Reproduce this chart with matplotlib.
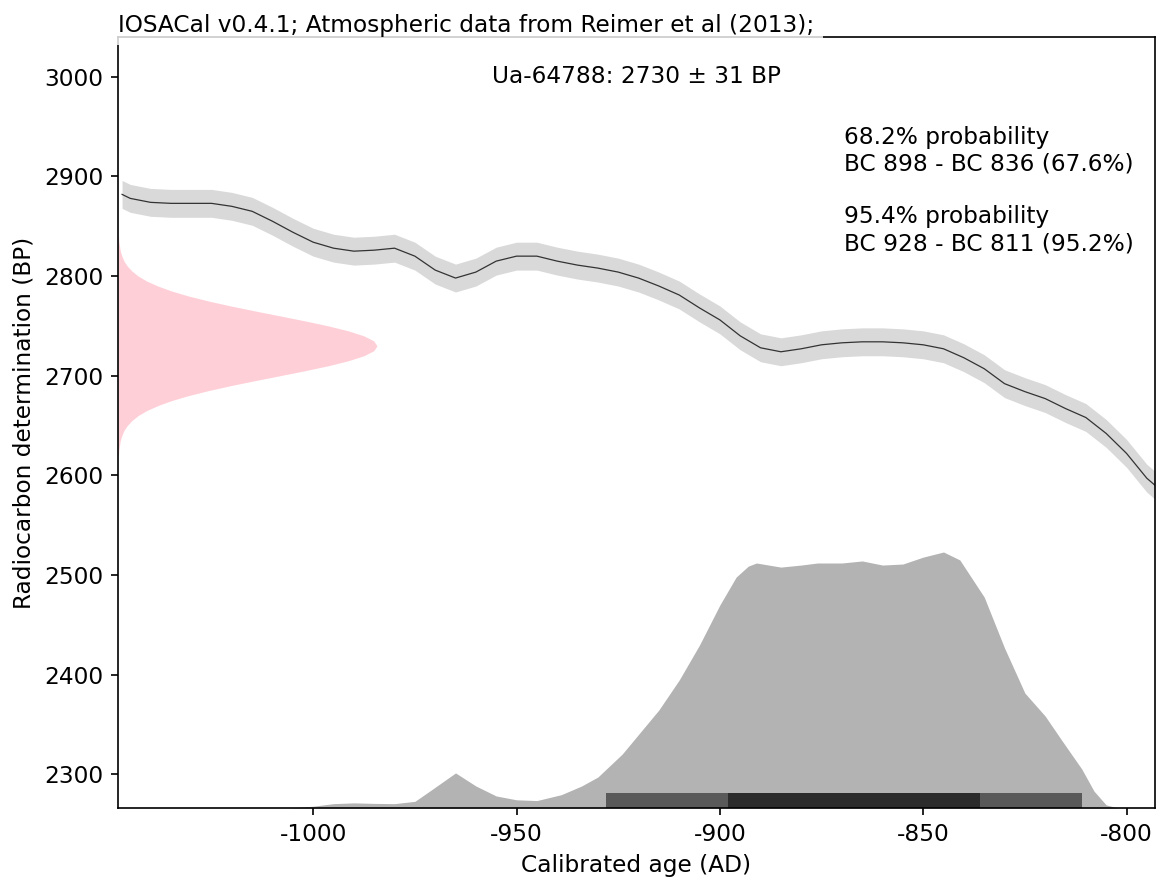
import numpy as np
import matplotlib
matplotlib.use("Agg")
import matplotlib.pyplot as plt

# calibration curve (IntCal13 section), cal AD vs 14C BP
curve_ad = [-1047, -1045, -1040, -1035, -1030, -1025, -1020, -1015, -1010, -1005,
            -1000, -995, -990, -985, -980, -975, -970, -965, -960, -955,
            -950, -945, -940, -935, -930, -925, -920, -915, -910, -905,
            -900, -895, -890, -885, -880, -875, -870, -865, -860, -855,
            -850, -845, -840, -835, -830, -825, -820, -815, -810, -805,
            -800, -795, -793]
curve_bp = [2882, 2878, 2874, 2873, 2873, 2873, 2870, 2865, 2855, 2844,
            2834, 2828, 2825, 2826, 2828, 2820, 2806, 2798, 2804, 2815,
            2820, 2820, 2815, 2811, 2808, 2804, 2798, 2790, 2781, 2768,
            2756, 2740, 2728, 2724, 2727, 2731, 2733, 2734, 2734, 2733,
            2731, 2727, 2718, 2707, 2692, 2684, 2677, 2667, 2658, 2642,
            2622, 2597, 2590]
curve_err = [14] * len(curve_ad)

# calibrated probability (relative)
cal_ad = [-1006, -1000, -995, -990, -985, -980, -975, -971, -965, -960,
          -955, -950, -945, -939, -934, -930, -924, -915, -910, -905,
          -900, -896, -893, -891, -885, -880, -876, -870, -865, -860, -855,
          -850, -845, -841, -835, -830, -825, -820, -816, -811, -808,
          -805, -802]
cal_p = [0.0, 0.007, 0.017, 0.02, 0.018, 0.017, 0.026, 0.07, 0.137, 0.086,
         0.047, 0.032, 0.029, 0.052, 0.086, 0.121, 0.211, 0.383, 0.5, 0.637,
         0.793, 0.902, 0.945, 0.957, 0.941, 0.949, 0.957, 0.957, 0.965, 0.949, 0.953,
         0.98, 1.0, 0.969, 0.824, 0.625, 0.449, 0.359, 0.266, 0.152, 0.066,
         0.012, 0.0]

# radiocarbon determination (relative), read every 5 BP
rc_bp = [2840, 2835, 2830, 2825, 2820, 2815, 2810, 2805, 2800, 2795,
         2790, 2785, 2780, 2775, 2770, 2765, 2760, 2755, 2750, 2745,
         2740, 2735, 2730, 2725, 2720, 2715, 2710, 2705, 2700, 2695,
         2690, 2685, 2680, 2675, 2670, 2665, 2660, 2655, 2650, 2645,
         2640, 2635, 2630, 2625, 2620]
rc_p = [0.002, 0.003, 0.006, 0.009, 0.015, 0.023, 0.036, 0.054, 0.078, 0.111,
        0.154, 0.207, 0.272, 0.349, 0.435, 0.529, 0.626, 0.722, 0.812, 0.889,
        0.949, 0.987, 1.0, 0.987, 0.949, 0.889, 0.812, 0.722, 0.626, 0.529,
        0.435, 0.349, 0.272, 0.207, 0.154, 0.111, 0.078, 0.054, 0.036, 0.023,
        0.015, 0.009, 0.006, 0.003, 0.002]

range95 = [-928, -811]
range68 = [-898, -836]

title = "IOSACal v0.4.1; Atmospheric data from Reimer et al (2013);"
label = "Ua-64788: 2730 \u00b1 31 BP"
intervals = "68.2% probability\nBC 898 - BC 836 (67.6%)\n\n95.4% probability\nBC 928 - BC 811 (95.2%)"

xmin, xmax = -1048, -793
ymin, ymax = 2266, 3040

plt.rcParams["font.size"] = 11.2
plt.rcParams["axes.unicode_minus"] = False

fig = plt.figure(figsize=(1156 / 150, 882 / 150), dpi=150)
ax = fig.add_axes([118 / 1156, 1 - 808 / 882, 1037 / 1156, 771 / 882])

curve_ad = np.array(curve_ad)
curve_bp = np.array(curve_bp)
curve_err = np.array(curve_err)
ax.fill_between(curve_ad, curve_bp - curve_err, curve_bp + curve_err,
                color="#d9d9d9", lw=0)
ax.plot(curve_ad, curve_bp, color="#333333", lw=0.6)

# calibrated distribution along the bottom
ax.fill_between(cal_ad, ymin, ymin + np.array(cal_p) * 257, color="#b3b3b3", lw=0)
ax.fill_between(range95, ymin, ymin + 15, color="#595959", lw=0)
ax.fill_between(range68, ymin, ymin + 15, color="#2b2b2b", lw=0)

# radiocarbon determination along the left
ax.fill_betweenx(rc_bp, xmin, xmin + np.array(rc_p) * 63.7, color="pink", alpha=0.75, lw=0)

ax.set_xlim(xmin, xmax)
ax.set_ylim(ymin, ymax)
ax.set_xticks([-1000, -950, -900, -850, -800])
ax.set_yticks([2300, 2400, 2500, 2600, 2700, 2800, 2900, 3000])
ax.set_xlabel("Calibrated age (AD)")
ax.set_ylabel("Radiocarbon determination (BP)")

ax.text(0.0, 1.0, title, transform=ax.transAxes, ha="left", va="bottom",
        bbox=dict(facecolor="white", alpha=0.8, lw=0))
ax.text(0.5, 0.964, label, transform=ax.transAxes, ha="center", va="top")
ax.text(0.70, 0.885, intervals, transform=ax.transAxes, ha="left", va="top",
        linespacing=1.2)

fig.savefig("out.png", dpi=150)
